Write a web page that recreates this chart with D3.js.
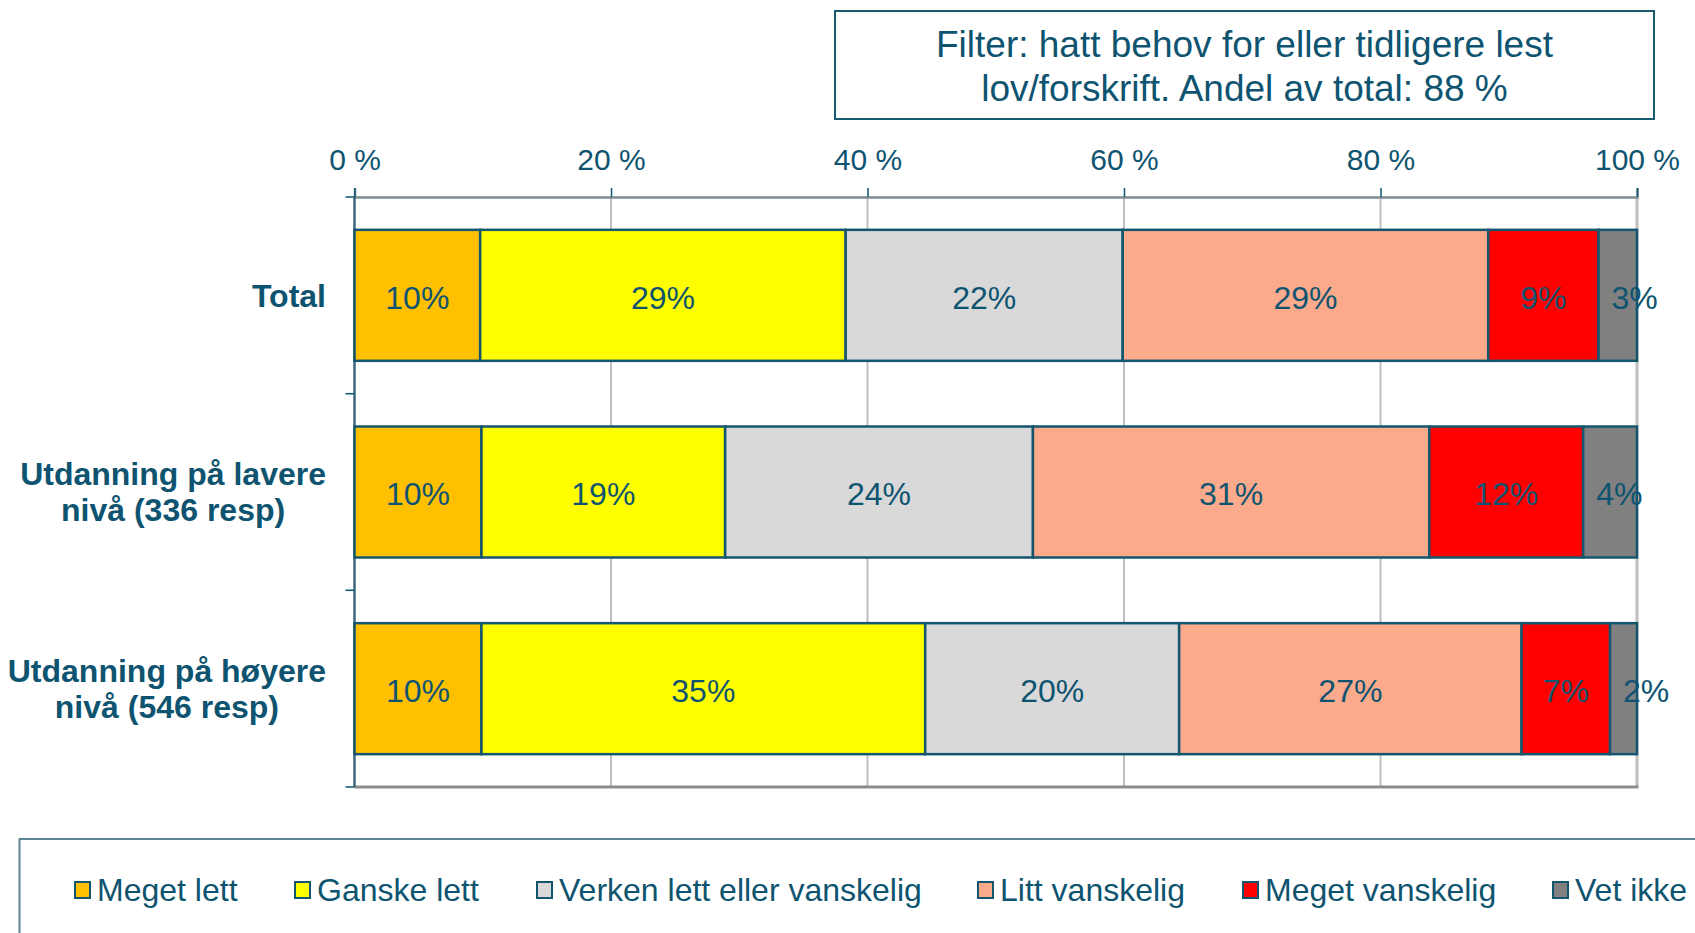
<!DOCTYPE html>
<html>
<head>
<meta charset="utf-8">
<script src="https://cdn.jsdelivr.net/npm/d3@7"></script>
<style>
  body { margin: 0; background: #fff; }
  svg { display: block; font-family: "Liberation Sans", Arial, sans-serif; }
</style>
</head>
<body>
<script>
var categories = [
  ["Total"],
  ["Utdanning på lavere", "nivå (336 resp)"],
  ["Utdanning på høyere", "nivå (546 resp)"]
];
var seriesNames = ["Meget lett", "Ganske lett", "Verken lett eller vanskelig", "Litt vanskelig", "Meget vanskelig", "Vet ikke"];
var seriesColors = ["#ffc000", "#ffff00", "#d9d9d9", "#fcaa8c", "#ff0000", "#808080"];
// one array per category row, in series order (percent)
var totalValues = [9.8, 28.5, 21.6, 28.5, 8.6, 3.0];
var lavereValues = [9.9, 19.0, 24.0, 30.9, 12.0, 4.2];
var hoyereValues = [9.9, 34.6, 19.8, 26.7, 6.9, 2.1];
var tickValues = [0, 20, 40, 60, 80, 100];
var filterText = ["Filter: hatt behov for eller tidligere lest", "lov/forskrift. Andel av total: 88 %"];

var rows = [totalValues, lavereValues, hoyereValues];
var textColor = "#0e5470";

var totalWidth = 1695, totalHeight = 933;
var svg = d3.select("body").append("svg")
    .attr("width", totalWidth)
    .attr("height", totalHeight);

var xScale = d3.scaleLinear().domain([0, 100]).range([354.5, 1637]);
var yScale = d3.scaleBand().domain(d3.range(categories.length))
    .range([197, 787]).paddingInner(0.334).paddingOuter(0.167);

// gridlines
svg.append("g").selectAll("line")
  .data(tickValues.slice(1))
  .enter().append("line")
  .attr("x1", function(d){ return xScale(d); })
  .attr("x2", function(d){ return xScale(d); })
  .attr("y1", 197).attr("y2", 787)
  .attr("stroke", "#bfbfbf")
  .attr("stroke-width", function(d){ return d == 100 ? 3 : 2; });

// bottom line
svg.append("line")
  .attr("x1", xScale(0)).attr("x2", xScale(100) + 1.5)
  .attr("y1", 787).attr("y2", 787)
  .attr("stroke", "#8c8c8c").attr("stroke-width", 3);

// top axis
var xAxis = d3.axisTop(xScale).tickValues(tickValues)
    .tickSize(9).tickPadding(18)
    .tickFormat(function(d){ return d + " %"; });
var xAxisGroup = svg.append("g").attr("transform", "translate(0,197)");
xAxis(xAxisGroup);
xAxisGroup.select(".domain").attr("stroke", "#7f8c92").attr("stroke-width", 2.5);
xAxisGroup.selectAll(".tick line").attr("stroke", textColor).attr("stroke-width", 1.5);
xAxisGroup.selectAll(".tick text")
  .attr("fill", textColor).style("font-size", "30px")
  .style("font-family", "'Liberation Sans', Arial, sans-serif");

// left axis with ticks at band boundaries
var boundaries = [197, 393.7, 590.3, 787];
svg.append("line")
  .attr("x1", xScale(0)).attr("x2", xScale(0))
  .attr("y1", 197).attr("y2", 787)
  .attr("stroke", "#3d6878").attr("stroke-width", 2.5);
svg.append("g").selectAll("line")
  .data(boundaries)
  .enter().append("line")
  .attr("x1", xScale(0) - 9).attr("x2", xScale(0))
  .attr("y1", function(d){ return d; }).attr("y2", function(d){ return d; })
  .attr("stroke", textColor).attr("stroke-width", 1.5);

// stacked bars
rows.forEach(function(vals, i) {
  var start = 0;
  var segs = vals.map(function(v, j) {
    var s = { x0: start, x1: start + v, v: v, c: seriesColors[j], last: j == vals.length - 1 };
    start += v;
    return s;
  });
  var g = svg.append("g");
  g.selectAll("rect").data(segs).enter().append("rect")
    .attr("x", function(d){ return xScale(d.x0); })
    .attr("width", function(d){ return xScale(d.x1) - xScale(d.x0); })
    .attr("y", yScale(i))
    .attr("height", yScale.bandwidth())
    .attr("fill", function(d){ return d.c; })
    .attr("stroke", "#13566e")
    .attr("stroke-width", 2.5);
  // last (narrow) segment label starts just inside the segment and spills over
  g.selectAll("text").data(segs).enter().append("text")
    .attr("x", function(d){ return d.last ? xScale(d.x0) + 13 : (xScale(d.x0) + xScale(d.x1)) / 2; })
    .attr("y", yScale(i) + yScale.bandwidth() / 2 + 2)
    .attr("dy", "0.35em")
    .attr("text-anchor", function(d){ return d.last ? "start" : "middle"; })
    .attr("fill", textColor)
    .style("font-size", "32px")
    .text(function(d){ return Math.round(d.v) + "%"; });
});

// category labels, block right aligned, lines centered
categories.forEach(function(lines, i) {
  var t = svg.append("text")
    .attr("fill", textColor)
    .attr("font-weight", "bold")
    .style("font-size", "32px")
    .attr("text-anchor", "middle");
  var cy = yScale(i) + yScale.bandwidth() / 2;
  var lh = 36;
  var spans = t.selectAll("tspan").data(lines).enter().append("tspan")
    .attr("y", function(d, k){ return cy + (k - (lines.length - 1) / 2) * lh; })
    .attr("dy", "0.35em")
    .text(function(d){ return d; });
  var maxW = 0;
  spans.each(function(){ maxW = Math.max(maxW, this.getComputedTextLength()); });
  spans.attr("x", 326 - maxW / 2);
});

// filter box
svg.append("rect")
  .attr("x", 835).attr("y", 11).attr("width", 819).attr("height", 108)
  .attr("fill", "none").attr("stroke", "#1b5b72").attr("stroke-width", 2);
svg.append("g").selectAll("text").data(filterText).enter().append("text")
  .attr("x", 1244.5)
  .attr("y", function(d, k){ return 44 + k * 44; })
  .attr("dy", "0.35em")
  .attr("text-anchor", "middle")
  .attr("fill", textColor)
  .style("font-size", "37px")
  .text(function(d){ return d; });

// legend
svg.append("rect")
  .attr("x", 19.5).attr("y", 839).attr("width", 1700).attr("height", 120)
  .attr("fill", "none").attr("stroke", "#5f8696").attr("stroke-width", 2);
var legendX = [75, 295, 537, 978, 1243, 1553];
var legend = svg.append("g").selectAll("g").data(seriesNames).enter().append("g")
  .attr("transform", function(d, j){ return "translate(" + legendX[j] + ",890)"; });
legend.append("rect")
  .attr("x", 0).attr("y", -8).attr("width", 15).attr("height", 16)
  .attr("fill", function(d, j){ return seriesColors[j]; })
  .attr("stroke", "#13566e").attr("stroke-width", 2);
legend.append("text")
  .attr("x", 22).attr("dy", "0.35em")
  .attr("fill", textColor)
  .style("font-size", "32px")
  .text(function(d){ return d; });
</script>
</body>
</html>
